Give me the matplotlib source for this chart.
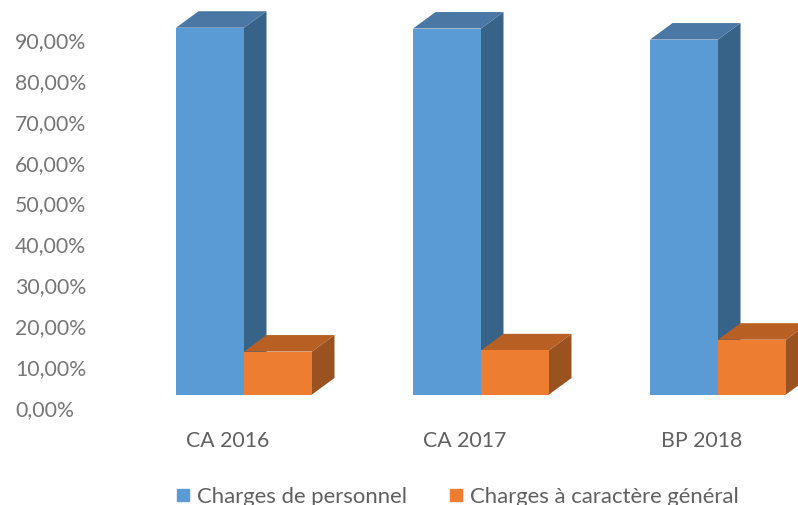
import matplotlib
matplotlib.use("Agg")
import matplotlib.pyplot as plt
from matplotlib.patches import Polygon, Rectangle
from matplotlib.lines import Line2D

categories = ["CA 2016", "CA 2017", "BP 2018"]
personnel = [89.7, 89.5, 86.8]
generales = [10.5, 10.8, 13.4]
series_names = ["Charges de personnel", "Charges à caractère général"]
y_ticks = [0, 10, 20, 30, 40, 50, 60, 70, 80, 90]
y_labels = ["0,00%", "10,00%", "20,00%", "30,00%", "40,00%", "50,00%", "60,00%", "70,00%", "80,00%", "90,00%"]

W, H = 798, 506
plt.rcParams["font.family"] = ["Lato", "DejaVu Sans"]
fig = plt.figure(figsize=(W / 100, H / 100), dpi=100)
y0_px, y90_px = 408, 40
top_px, bot_px = 0, 431
per = (y0_px - y90_px) / 90
spacing = 237
x0_px = 228
ax = fig.add_axes([0, 1 - bot_px / H, 1, (bot_px - top_px) / H])
ax.set_xlim(-x0_px / spacing, (W - x0_px) / spacing)
ax.set_ylim((y0_px - bot_px) / per, (y0_px - top_px) / per)
ax.patch.set_alpha(0)
for s in ax.spines.values():
    s.set_visible(False)

PX = 1 / spacing
PY = 1 / per
bw = 68 * PX
dx, dy = 22.5 * PX, 16.5 * PY
base = 12.5 * PY
shift = 16 * PX

def bar3d(x, v, front, top, side):
    b, t = base, base + v
    ax.add_patch(Polygon([(x + bw, b), (x + bw + dx, b + dy), (x + bw + dx, t + dy), (x + bw, t)], fc=side, ec="none", zorder=2))
    ax.add_patch(Polygon([(x, t), (x + bw, t), (x + bw + dx, t + dy), (x + dx, t + dy)], fc=top, ec="none", zorder=2))
    ax.add_patch(Rectangle((x, b), bw, v, fc=front, ec="none", zorder=3))

for i in range(len(categories)):
    xc = i + shift
    bar3d(xc - bw, personnel[i], "#5B9BD5", "#4A77A3", "#386389")
    bar3d(xc, generales[i], "#ED7D31", "#B85F23", "#9A5220")

ax.set_xticks(range(len(categories)), categories)
ax.set_yticks(y_ticks, y_labels)
ax.tick_params(axis="x", length=0, pad=0, labelsize=15.3, labelcolor="#606060")
ax.tick_params(axis="y", length=0, pad=0, labelsize=15.3, labelcolor="#767676")
for lab in ax.get_yticklabels():
    lab.set_horizontalalignment("left")
    lab.set_x(15 / W)

handles = [Line2D([], [], ls="none", marker="s", ms=9.2, color="#5B9BD5"),
           Line2D([], [], ls="none", marker="s", ms=9.2, color="#ED7D31")]
fig.legend(handles, series_names, loc="lower left", bbox_to_anchor=(172 / W, -1.5 / H), ncol=2, frameon=False,
           fontsize=15.9, labelcolor="#606060", handlelength=1.0, handletextpad=0.12, columnspacing=1.73, borderpad=0, borderaxespad=0)
fig.savefig("out.png", dpi=100)
